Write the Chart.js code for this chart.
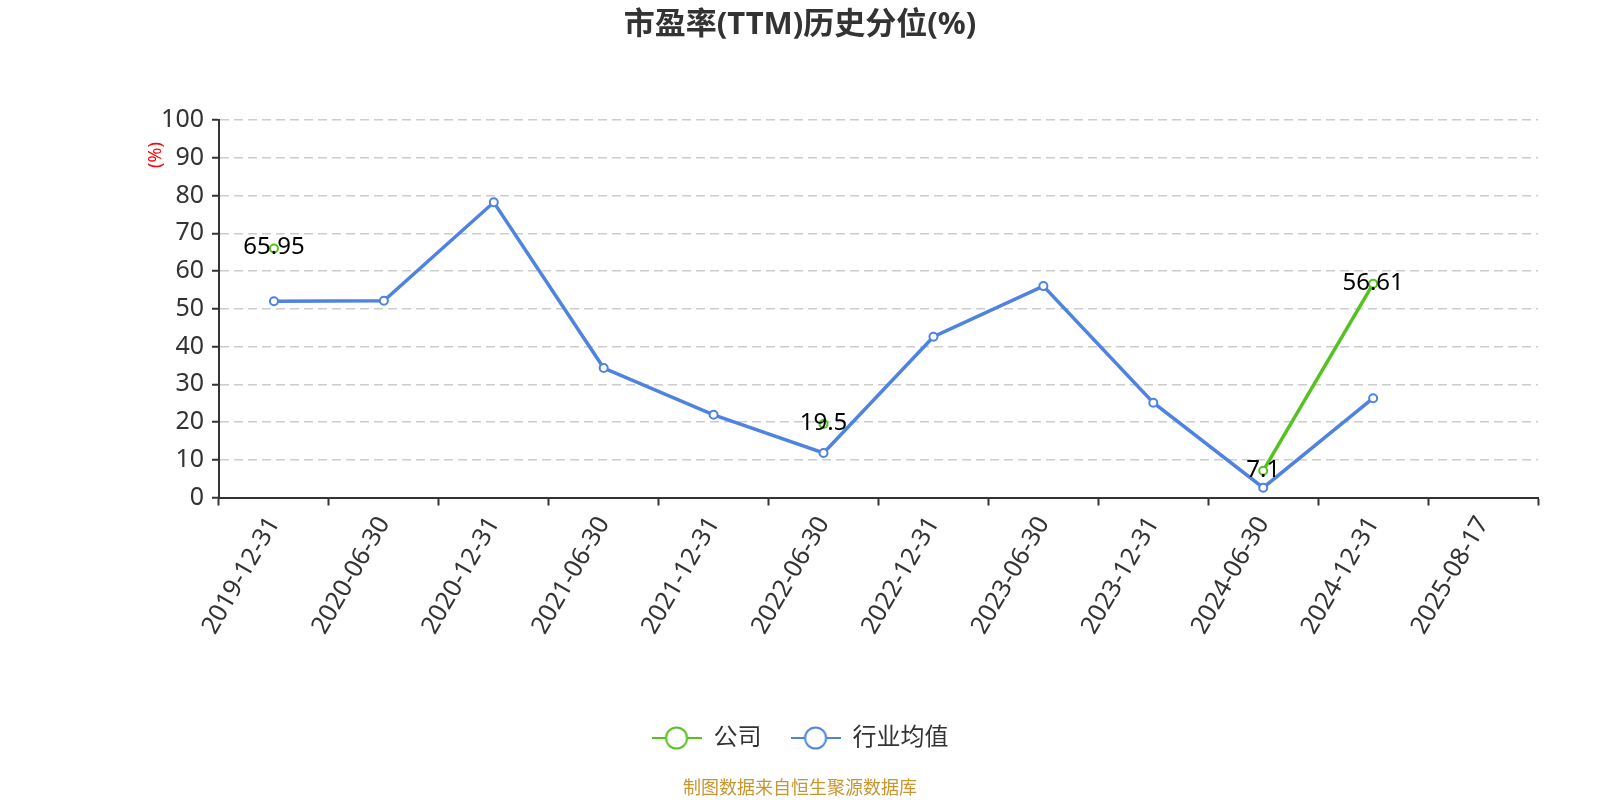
<!DOCTYPE html>
<html>
<head>
<meta charset="utf-8">
<script src="https://cdn.jsdelivr.net/npm/chart.js@4/dist/chart.umd.min.js"></script>
<style>
  html, body { margin: 0; padding: 0; background: #fff; }
  #wrap { width: 1600px; height: 800px; }
</style>
</head>
<body>
<div id="wrap"><canvas id="chart" width="1600" height="800"></canvas></div>
<script>
// data
const categories = ['2019-12-31', '2020-06-30', '2020-12-31', '2021-06-30', '2021-12-31', '2022-06-30',
  '2022-12-31', '2023-06-30', '2023-12-31', '2024-06-30', '2024-12-31', '2025-08-17'];
const companyValues = [65.95, null, null, null, null, 19.5, null, null, null, 7.1, 56.61, null];
const industryValues = [52.0, 52.1, 78.2, 34.3, 21.9, 11.8, 42.6, 56.0, 25.1, 2.6, 26.3, null];
const seriesNames = ['公司', '行业均值'];
const yTicks = { min: 0, max: 100, step: 10 };

const GREEN = '#56c21f';
const BLUE = '#4f83e2';
const FONT = '"Noto Sans", "Noto Sans CJK SC", sans-serif';

// legend marker: short line with hollow circle
const legendMarker = color => {
  const c = document.createElement('canvas');
  c.width = 50; c.height = 26;
  const g = c.getContext('2d');
  g.strokeStyle = color;
  g.lineWidth = 2;
  g.beginPath(); g.moveTo(0, 13); g.lineTo(50, 13); g.stroke();
  g.beginPath(); g.arc(25, 13, 10.5, 0, Math.PI * 2);
  g.fillStyle = '#fff'; g.fill(); g.stroke();
  return c;
};
const markers = [legendMarker(GREEN), legendMarker(BLUE)];

// value labels on the company series
const valueLabels = {
  id: 'valueLabels',
  afterDatasetsDraw(chart) {
    const { ctx } = chart;
    const meta = chart.getDatasetMeta(0);
    ctx.save();
    ctx.font = '24px ' + FONT;
    ctx.fillStyle = '#000';
    ctx.textAlign = 'center';
    ctx.textBaseline = 'middle';
    meta.data.forEach((pt, i) => {
      const v = companyValues[i];
      if (v === null) return;
      ctx.fillText(String(v), pt.x, pt.y - 1);
    });
    ctx.restore();
  }
};

// red unit text next to the y axis
const unitLabel = {
  id: 'unitLabel',
  afterDraw(chart) {
    const { ctx, chartArea } = chart;
    ctx.save();
    ctx.translate(chartArea.left - 63, chartArea.top + 35);
    ctx.rotate(-Math.PI / 2);
    ctx.font = '18px ' + FONT;
    ctx.fillStyle = '#ff0000';
    ctx.textAlign = 'center';
    ctx.textBaseline = 'middle';
    ctx.fillText('(%)', 0, 0);
    ctx.restore();
  }
};

const ctx = document.getElementById('chart').getContext('2d');
new Chart(ctx, {
  type: 'line',
  data: {
    labels: categories,
    datasets: [
      {
        label: seriesNames[0],
        data: companyValues,
        borderColor: GREEN,
        backgroundColor: '#fff',
        borderWidth: 3.5,
        pointRadius: 4,
        pointBorderWidth: 2,
        pointBackgroundColor: '#fff',
        pointBorderColor: GREEN,
        spanGaps: false,
        tension: 0
      },
      {
        label: seriesNames[1],
        data: industryValues,
        borderColor: BLUE,
        backgroundColor: '#fff',
        borderWidth: 3.5,
        pointRadius: 4,
        pointBorderWidth: 2,
        pointBackgroundColor: '#fff',
        pointBorderColor: BLUE,
        spanGaps: false,
        tension: 0
      }
    ]
  },
  options: {
    responsive: false,
    animation: false,
    devicePixelRatio: 1,
    layout: { padding: { left: 62, right: 62, top: 0, bottom: 0 } },
    scales: {
      x: {
        type: 'category',
        offset: true,
        grid: { drawOnChartArea: false, offset: true, tickLength: 8, tickColor: '#333', tickWidth: 2 },
        border: { color: '#333', width: 2 },
        ticks: {
          autoSkip: false,
          maxRotation: 60,
          minRotation: 60,
          padding: 6,
          color: '#333',
          font: { family: FONT, size: 25 }
        },
        afterFit: scale => { scale.height = 199.5; }
      },
      y: {
        min: yTicks.min,
        max: yTicks.max,
        grid: { color: '#cccccc', lineWidth: 1.5, tickColor: '#333', tickLength: 7, tickBorderDash: [], tickWidth: 2 },
        border: { color: '#333', width: 2, dash: [9, 5] },
        ticks: {
          stepSize: yTicks.step,
          padding: 8,
          color: '#333',
          font: { family: FONT, size: 25 }
        },
        afterFit: scale => { scale.width = 157; }
      }
    },
    plugins: {
      title: {
        display: true,
        text: '市盈率(TTM)历史分位(%)',
        color: '#333',
        font: { family: FONT, size: 31, weight: 'bold' },
        padding: { top: 6.2, bottom: 76.6 }
      },
      subtitle: {
        display: true,
        position: 'bottom',
        text: '制图数据来自恒生聚源数据库',
        color: '#c8952f',
        font: { family: FONT, size: 18 },
        padding: { top: 18.4, bottom: 0 }
      },
      legend: {
        position: 'bottom',
        labels: {
          usePointStyle: true,
          pointStyleWidth: 50,
          padding: 29,
          color: '#333',
          font: { family: FONT, size: 24 },
          generateLabels: chart => Chart.defaults.plugins.legend.labels.generateLabels(chart)
            .map((item, i) => Object.assign(item, { pointStyle: markers[i] }))
        }
      },
      tooltip: { enabled: false }
    }
  },
  plugins: [valueLabels, unitLabel]
});
</script>
</body>
</html>
